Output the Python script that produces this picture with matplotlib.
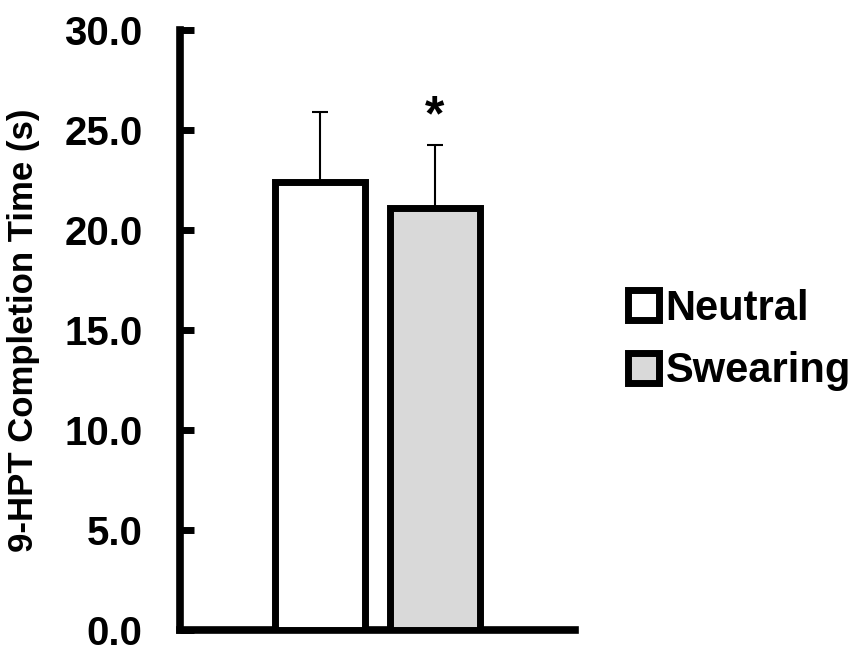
import matplotlib
matplotlib.use("Agg")
import matplotlib.pyplot as plt

# datos
condiciones = ["Neutral", "Swearing"]
medias = [22.4, 21.1]
error_sup = [3.5, 3.15]
colores = ["white", "#d9d9d9"]
ticks_y = [0, 5, 10, 15, 20, 25, 30]

plt.rcParams["font.family"] = ["Liberation Sans", "DejaVu Sans"]
plt.rcParams["font.weight"] = "bold"

fig = plt.figure(figsize=(8.55, 6.54), dpi=100)
ax = fig.add_axes([180 / 855, 24 / 654, 395 / 855, 600 / 654])

pos = [0, 1]
barras = ax.bar(pos, medias, width=0.78, color=colores, edgecolor="black",
                linewidth=5, zorder=3)
ax.errorbar(pos, medias, yerr=[[0, 0], error_sup], fmt="none", ecolor="black",
            elinewidth=1.5, capsize=6, capthick=1.5, zorder=2)

# asterisco de significancia
ax.text(1, 25.0, "*", ha="center", va="baseline", fontsize=36, fontweight="bold")

ax.set_xlim(-1.217, 2.217)
ax.set_ylim(0, 30)
ax.set_yticks(ticks_y)
ax.set_yticklabels([f"{t:.1f}" for t in ticks_y], fontsize=29, fontweight="bold")
ax.set_xticks([])

ax.spines["top"].set_visible(False)
ax.spines["right"].set_visible(False)
ax.spines["left"].set_linewidth(5.5)
ax.spines["bottom"].set_linewidth(5.5)
ax.tick_params(axis="y", direction="in", length=10, width=5, pad=27)

ax.set_ylabel("9-HPT Completion Time (s)", fontsize=25, fontweight="bold")
ax.yaxis.set_label_coords(-0.355, 0.5)

fig.legend(barras, condiciones, loc="center left", bbox_to_anchor=(628 / 855, 314 / 654),
           frameon=False, fontsize=30, handlelength=0.75, handleheight=0.75,
           handletextpad=0.15, labelspacing=0.55, borderpad=0, borderaxespad=0)

fig.savefig("out.png", dpi=100)
